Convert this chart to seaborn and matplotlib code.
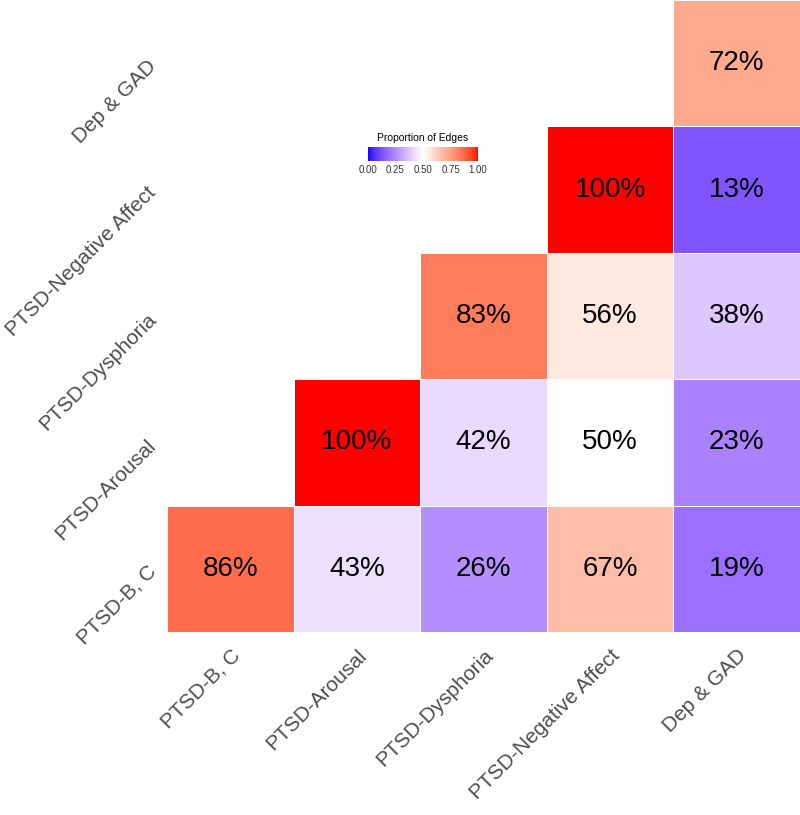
import numpy as np
import pandas as pd
import seaborn as sns
import matplotlib.pyplot as plt
from matplotlib.colors import ListedColormap

# categories, bottom to top / left to right
groups = ["PTSD-B, C", "PTSD-Arousal", "PTSD-Dysphoria", "PTSD-Negative Affect", "Dep & GAD"]

# proportion of edges, one row per y category (bottom row first), nan = not shown
row_bc = [0.86, 0.43, 0.26, 0.67, 0.19]
row_arousal = [np.nan, 1.00, 0.42, 0.50, 0.23]
row_dysphoria = [np.nan, np.nan, 0.83, 0.56, 0.38]
row_negaff = [np.nan, np.nan, np.nan, 1.00, 0.13]
row_depgad = [np.nan, np.nan, np.nan, np.nan, 0.72]


def srgb_to_lab(c):
    c = np.array(c, dtype=float)
    lin = np.where(c <= 0.04045, c / 12.92, ((c + 0.055) / 1.055) ** 2.4)
    m = np.array([[0.4124, 0.3576, 0.1805], [0.2126, 0.7152, 0.0722], [0.0193, 0.1192, 0.9505]])
    xyz = m @ lin / np.array([0.95047, 1.0, 1.08883])
    f = np.where(xyz > 0.008856, np.cbrt(xyz), 7.787 * xyz + 16 / 116)
    return np.array([116 * f[1] - 16, 500 * (f[0] - f[1]), 200 * (f[1] - f[2])])


def lab_to_srgb(lab):
    L, a, b = lab
    fy = (L + 16) / 116
    fx = fy + a / 500
    fz = fy - b / 200
    f = np.array([fx, fy, fz])
    xyz = np.where(f ** 3 > 0.008856, f ** 3, (f - 16 / 116) / 7.787) * np.array([0.95047, 1.0, 1.08883])
    m = np.array([[3.2406, -1.5372, -0.4986], [-0.9689, 1.8758, 0.0415], [0.0557, -0.2040, 1.0570]])
    lin = np.clip(m @ xyz, 0, 1)
    c = np.where(lin <= 0.0031308, 12.92 * lin, 1.055 * lin ** (1 / 2.4) - 0.055)
    return np.clip(c, 0, 1)


# blue - white - red, interpolated in Lab like ggplot's gradient2
lo, mid, hi = srgb_to_lab([0, 0, 1]), srgb_to_lab([1, 1, 1]), srgb_to_lab([1, 0, 0])
cols = []
for t in np.linspace(0, 1, 256):
    if t < 0.5:
        lab = lo + (mid - lo) * (t / 0.5)
    else:
        lab = mid + (hi - mid) * ((t - 0.5) / 0.5)
    cols.append(lab_to_srgb(lab))
cmap = ListedColormap(cols)

# heatmap rows go top to bottom
vals = np.array([row_depgad, row_negaff, row_dysphoria, row_arousal, row_bc])
df = pd.DataFrame(vals, index=groups[::-1], columns=groups)
labels = np.where(np.isnan(vals), "", np.char.add(np.round(np.nan_to_num(vals) * 100).astype(int).astype(str), "%"))

sns.set_style("white")
plt.rcParams['font.family'] = ['Liberation Sans', 'DejaVu Sans']
fig = plt.figure(figsize=(8, 8.15), dpi=100)
ax = fig.add_axes([167 / 800, 1 - 632 / 815, 633 / 800, 632 / 815])
cax = fig.add_axes([368 / 800, 1 - 161 / 815, 110 / 800, 14 / 815])

sns.heatmap(df, ax=ax, cmap=cmap, vmin=0, vmax=1, mask=np.isnan(vals),
            annot=labels, fmt="", annot_kws={"fontsize": 20, "color": "black"},
            linewidths=0.6, linecolor="white", cbar_ax=cax,
            cbar_kws={"orientation": "horizontal", "ticks": [0, 0.25, 0.5, 0.75, 1.0]})

ax.set_xlabel("")
ax.set_ylabel("")
ax.set_xticklabels(groups, rotation=45, ha="right", rotation_mode="anchor",
                   fontsize=15, color="#4d4d4d")
ax.set_yticklabels(groups[::-1], rotation=45, ha="right", rotation_mode="anchor",
                   fontsize=15, color="#4d4d4d")
ax.tick_params(axis="both", length=0, pad=10)
for s in ax.spines.values():
    s.set_visible(False)

cax.set_title("Proportion of Edges", fontsize=7.5, color="black", pad=4)
cax.set_xticklabels(["0.00", "0.25", "0.50", "0.75", "1.00"])
cax.tick_params(axis="x", labelsize=7, colors="white", direction="in", length=3, labelcolor="#333333", pad=3)
for s in cax.spines.values():
    s.set_visible(False)

fig.savefig("out.png", dpi=100)
